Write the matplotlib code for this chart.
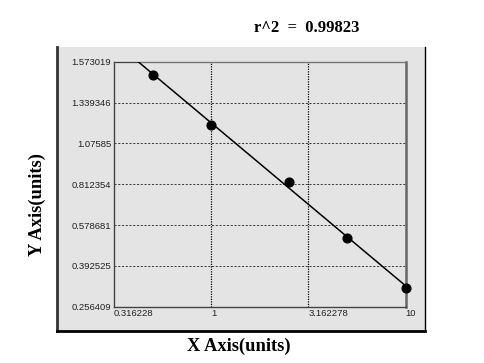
import numpy as np
import matplotlib
matplotlib.use("Agg")
import matplotlib.pyplot as plt
from matplotlib.lines import Line2D
from matplotlib.patches import Rectangle

# data
x_vals = [0.5, 1.0, 2.5, 5.0, 10.0]
y_vals = [1.498, 1.194, 0.828, 0.521, 0.319]

x_ticks = [0.316228, 1, 3.162278, 10]
x_tick_labels = ["0.316228", "1", "3.162278", "10"]
y_ticks = [0.256409, 0.392525, 0.578681, 0.812354, 1.07585, 1.339346, 1.573019]
y_tick_labels = ["0.256409", "0.392525", "0.578681", "0.812354", "1.07585", "1.339346", "1.573019"]

r2_text = "r^2  =  0.99823"

# y axis spaces the tick values evenly
tick_pos = np.arange(len(y_ticks), dtype=float)


def fwd(y):
    return np.interp(y, y_ticks, tick_pos)


def inv(p):
    return np.interp(p, tick_pos, y_ticks)


W, H = 484, 363
fig = plt.figure(figsize=(W / 100, H / 100), dpi=100)
fig.patch.set_facecolor("white")

# grey panel behind the plot
bg = "#e4e4e4"
px = lambda v: v / W
py = lambda v: 1 - v / H
fig.patches.append(Rectangle((px(56.7), py(331)), px(425) - px(56.7), py(47) - py(331),
                             transform=fig.transFigure, facecolor=bg, edgecolor="none", zorder=-5))
fig.lines.append(Line2D([px(56.7), px(56.7)], [py(331), py(47)], transform=fig.transFigure,
                        color="#333333", lw=2, zorder=-4))
fig.lines.append(Line2D([px(56.7), px(425)], [py(331), py(331)], transform=fig.transFigure,
                        color="black", lw=2, zorder=-4))
fig.lines.append(Line2D([px(425), px(425)], [py(331), py(47)], transform=fig.transFigure,
                        color="black", lw=1, zorder=-4))

ax = fig.add_axes([px(114), py(306.7), px(405.7) - px(114), py(61.7) - py(306.7)])
ax.set_zorder(2)
ax.set_facecolor(bg)
ax.set_xscale("log")
ax.set_yscale("function", functions=(fwd, inv))
ax.set_xlim(x_ticks[0], x_ticks[-1])
ax.set_ylim(y_ticks[0], y_ticks[-1])

# grid
for yt in y_ticks[1:-1]:
    ax.axhline(yt, color="#222222", lw=0.6, ls=(0, (2.5, 2)), zorder=1)
for xt in x_ticks[1:-1]:
    ax.axvline(xt, color="black", lw=0.9, ls=(0, (1, 1)), zorder=1)

# fit line (straight in display space)
lx = np.log10(x_vals)
coef = np.polyfit(lx, fwd(np.array(y_vals)), 1)
xs = np.logspace(np.log10(x_ticks[0]), np.log10(x_ticks[-1]), 200)
ax.plot(xs, inv(np.polyval(coef, np.log10(xs))), color="black", lw=1.1, zorder=3)
ax.plot(x_vals, y_vals, "o", color="black", ms=6.3, zorder=4, clip_on=False)

ax.set_xticks(x_ticks)
ax.set_xticklabels(x_tick_labels)
ax.set_yticks(y_ticks)
ax.set_yticklabels(y_tick_labels)
ax.xaxis.set_minor_locator(matplotlib.ticker.NullLocator())
ax.yaxis.set_minor_locator(matplotlib.ticker.NullLocator())
ax.tick_params(length=0, labelsize=6.8, pad=2, labelcolor="#222222")
for lab in ax.get_xticklabels():
    lab.set_ha("left")
    lab.set_fontfamily("Liberation Sans")
for lab in ax.get_yticklabels():
    lab.set_fontfamily("Liberation Sans")

ax.spines["left"].set_color("#444444")
ax.spines["bottom"].set_color("#444444")
ax.spines["top"].set_color("#777777")
ax.spines["right"].set_color("#666666")
ax.spines["right"].set_linewidth(1.8)
for s in ["left", "bottom", "top"]:
    ax.spines[s].set_linewidth(1.0)

fig.text(px(307), py(27.5), r2_text, ha="center", va="center", fontsize=12,
         fontfamily="Liberation Serif", fontweight="bold")
fig.text(px(238.5), py(346), "X Axis(units)", ha="center", va="center", fontsize=13.3,
         fontfamily="Liberation Serif", fontweight="bold")
fig.text(px(37), py(205), "Y Axis(units)", ha="center", va="center", fontsize=13.3,
         fontfamily="Liberation Serif", fontweight="bold", rotation=90)

fig.savefig("out.png", dpi=100)
